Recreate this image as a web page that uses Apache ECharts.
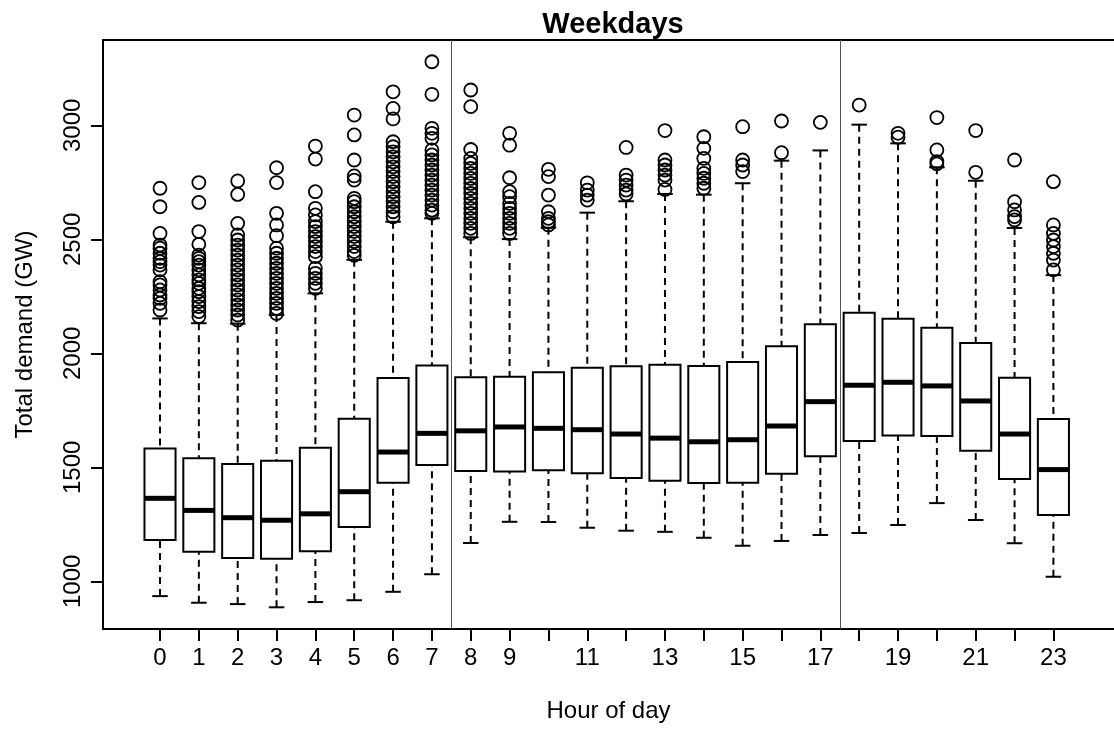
<!DOCTYPE html>
<html>
<head>
<meta charset="utf-8">
<script src="https://cdn.jsdelivr.net/npm/echarts@6/dist/echarts.min.js"></script>
<style>
html,body{margin:0;padding:0;background:#fff;}
#main{width:1114px;height:731px;}
</style>
</head>
<body>
<div id="main"></div>
<script>
var hours = [0,1,2,3,4,5,6,7,8,9,10,11,12,13,14,15,16,17,18,19,20,21,22,23];
var tickLabels = [0,1,2,3,4,5,6,7,8,9,11,13,15,17,19,21,23];
var yTicks = [1000,1500,2000,2500,3000];
var separators = [7.5, 17.5];

var lowWhisker  = [935, 906, 900, 886, 909, 917, 954,1031,1168,1261,1260,1235,1222,1217,1191,1156,1177,1203,1212,1247,1343,1269,1167,1020];
var q1          = [1181,1130,1102,1099,1132,1238,1432,1510,1484,1482,1487,1474,1453,1441,1431,1432,1472,1548,1615,1640,1637,1573,1449,1291];
var median      = [1364,1311,1279,1268,1296,1393,1567,1649,1660,1677,1671,1665,1646,1628,1612,1621,1681,1788,1860,1873,1857,1791,1646,1490];
var q3          = [1583,1540,1514,1529,1586,1713,1892,1947,1895,1897,1917,1937,1943,1950,1944,1962,2031,2127,2178,2152,2112,2045,1893,1712];
var highWhisker = [2153,2132,2130,2168,2263,2410,2577,2592,2509,2501,2551,2617,2667,2699,2696,2746,2845,2890,3003,2921,2816,2757,2550,2343];

var outliers = [
  [2724,2643,2526,2475,2461,2439,2417,2402,2387,2366,2314,2300,2278,2256,2241,2219,2190],
  [2749,2662,2534,2478,2431,2417,2402,2387,2366,2344,2322,2307,2285,2270,2249,2227,2205,2183,2161],
  [2756,2697,2570,2519,2497,2475,2453,2431,2409,2387,2366,2344,2322,2300,2278,2256,2234,2212,2190,2168,2146],
  [2814,2749,2614,2563,2516,2461,2439,2417,2395,2373,2351,2329,2307,2285,2263,2241,2219,2197,2175],
  [2909,2852,2709,2636,2607,2578,2556,2534,2512,2490,2468,2446,2424,2373,2351,2329,2307,2285],
  [3045,2958,2848,2778,2760,2680,2665,2643,2621,2599,2578,2556,2534,2512,2490,2468,2446,2430],
  [3147,3074,3028,2928,2906,2884,2862,2840,2818,2797,2775,2753,2731,2709,2687,2665,2643,2621,2599],
  [3279,3136,2987,2965,2943,2892,2870,2848,2826,2804,2782,2760,2738,2716,2694,2672,2650,2628,2614],
  [3155,3082,2894,2855,2833,2811,2789,2767,2745,2723,2701,2680,2658,2636,2614,2592,2570,2548,2526],
  [2965,2913,2770,2709,2687,2658,2636,2614,2592,2570,2548,2526],
  [2807,2775,2694,2621,2592,2577,2563],
  [2748,2716,2694,2672],
  [2903,2782,2760,2738,2716,2699],
  [2977,2848,2826,2804,2782,2760,2719],
  [2950,2899,2855,2811,2789,2768,2746,2724],
  [2994,2848,2826,2797],
  [3019,2880],
  [3013],
  [3089],
  [2965,2948],
  [3034,2892,2841,2831],
  [2977,2794],
  [2848,2665,2629,2600,2585],
  [2753,2563,2526,2497,2468,2439,2409,2366]
];

var boxData = hours.map(function(h,i){
  return [h, lowWhisker[i], q1[i], median[i], q3[i], highWhisker[i]];
});
var outlierData = [];
hours.forEach(function(h,i){
  outliers[i].forEach(function(v){ outlierData.push([h, v]); });
});

var FONT = 'Liberation Sans, Arial, Helvetica, sans-serif';
var X_MIN = -1.4676, X_MAX = 24.56;
var chart = echarts.init(document.getElementById('main'), null, {renderer:'canvas'});

chart.setOption({
  animation: false,
  backgroundColor: '#fff',
  title: {
    text: 'Weekdays',
    left: 608, top: 5, textAlign: 'center',
    textStyle: {fontFamily: FONT, fontSize: 29, fontWeight: 'bold', color: '#000'}
  },
  grid: {
    left: 103, top: 40, right: 0, bottom: 102, show: false
  },
  xAxis: [{
    type: 'value',
    position: 'bottom',
    min: X_MIN, max: X_MAX,
    name: 'Hour of day',
    nameLocation: 'middle',
    nameGap: 70,
    nameTextStyle: {fontFamily: FONT, fontSize: 24, color: '#000'},
    splitLine: {show: false},
    axisLine: {show: true, onZero: false, lineStyle: {color: '#000', width: 2}},
    axisTick: {show: true, length: 12, inside: false, customValues: hours, lineStyle: {color: '#000', width: 2}},
    axisLabel: {show: true, customValues: tickLabels, margin: 17, fontFamily: FONT, fontSize: 24, color: '#000',
      formatter: function(v){ return String(v); }}
  }, {
    type: 'value',
    position: 'top',
    min: X_MIN, max: X_MAX,
    splitLine: {show: false},
    axisLine: {show: true, onZero: false, lineStyle: {color: '#000', width: 2}},
    axisTick: {show: false},
    axisLabel: {show: false}
  }],
  yAxis: {
    type: 'value',
    min: 790.8, max: 3374.3,
    name: 'Total demand (GW)',
    nameLocation: 'middle',
    nameRotate: 90,
    nameGap: 66,
    nameTextStyle: {fontFamily: FONT, fontSize: 24, color: '#000'},
    splitLine: {show: false},
    axisLine: {show: true, onZero: false, lineStyle: {color: '#000', width: 2}},
    axisTick: {show: true, length: 12, customValues: yTicks, lineStyle: {color: '#000', width: 2}},
    axisLabel: {show: true, customValues: yTicks, rotate: 90, margin: 18, fontFamily: FONT, fontSize: 24, color: '#000',
      formatter: function(v){ return String(v); }}
  },
  series: [
    {
      type: 'custom',
      data: boxData,
      silent: true,
      z: 2,
      encode: {x: 0, y: [1,2,3,4,5]},
      renderItem: function(params, api){
        var x = api.value(0);
        var pLow = api.coord([x, api.value(1)]);
        var pQ1 = api.coord([x, api.value(2)]);
        var pMed = api.coord([x, api.value(3)]);
        var pQ3 = api.coord([x, api.value(4)]);
        var pHigh = api.coord([x, api.value(5)]);
        var w = api.size([0.8, 0])[0];
        var cx = pMed[0];
        var capHalf = w / 4;
        var dashStyle = {stroke: '#000', lineWidth: 2, lineDash: [7,5], fill: null};
        var solid = {stroke: '#000', lineWidth: 2, fill: null};
        return {
          type: 'group',
          children: [
            {type: 'line', shape: {x1: cx, y1: pHigh[1], x2: cx, y2: pQ3[1]}, style: dashStyle},
            {type: 'line', shape: {x1: cx, y1: pLow[1], x2: cx, y2: pQ1[1]}, style: dashStyle},
            {type: 'line', shape: {x1: cx - capHalf, y1: pHigh[1], x2: cx + capHalf, y2: pHigh[1]}, style: solid},
            {type: 'line', shape: {x1: cx - capHalf, y1: pLow[1], x2: cx + capHalf, y2: pLow[1]}, style: solid},
            {type: 'rect', shape: {x: cx - w/2, y: pQ3[1], width: w, height: pQ1[1] - pQ3[1]},
              style: {fill: '#fff', stroke: '#000', lineWidth: 2}},
            {type: 'line', shape: {x1: cx - w/2, y1: pMed[1], x2: cx + w/2, y2: pMed[1]},
              style: {stroke: '#000', lineWidth: 5}}
          ]
        };
      }
    },
    {
      type: 'scatter',
      data: outlierData,
      silent: true,
      z: 3,
      symbol: 'circle',
      symbolSize: 13,
      itemStyle: {color: 'rgba(0,0,0,0)', borderColor: '#000', borderWidth: 1.8, opacity: 1},
      markLine: {
        silent: true,
        symbol: ['none','none'],
        label: {show: false},
        lineStyle: {color: '#555', width: 1, type: 'solid'},
        data: separators.map(function(s){ return {xAxis: s}; })
      }
    }
  ]
});
</script>
</body>
</html>
